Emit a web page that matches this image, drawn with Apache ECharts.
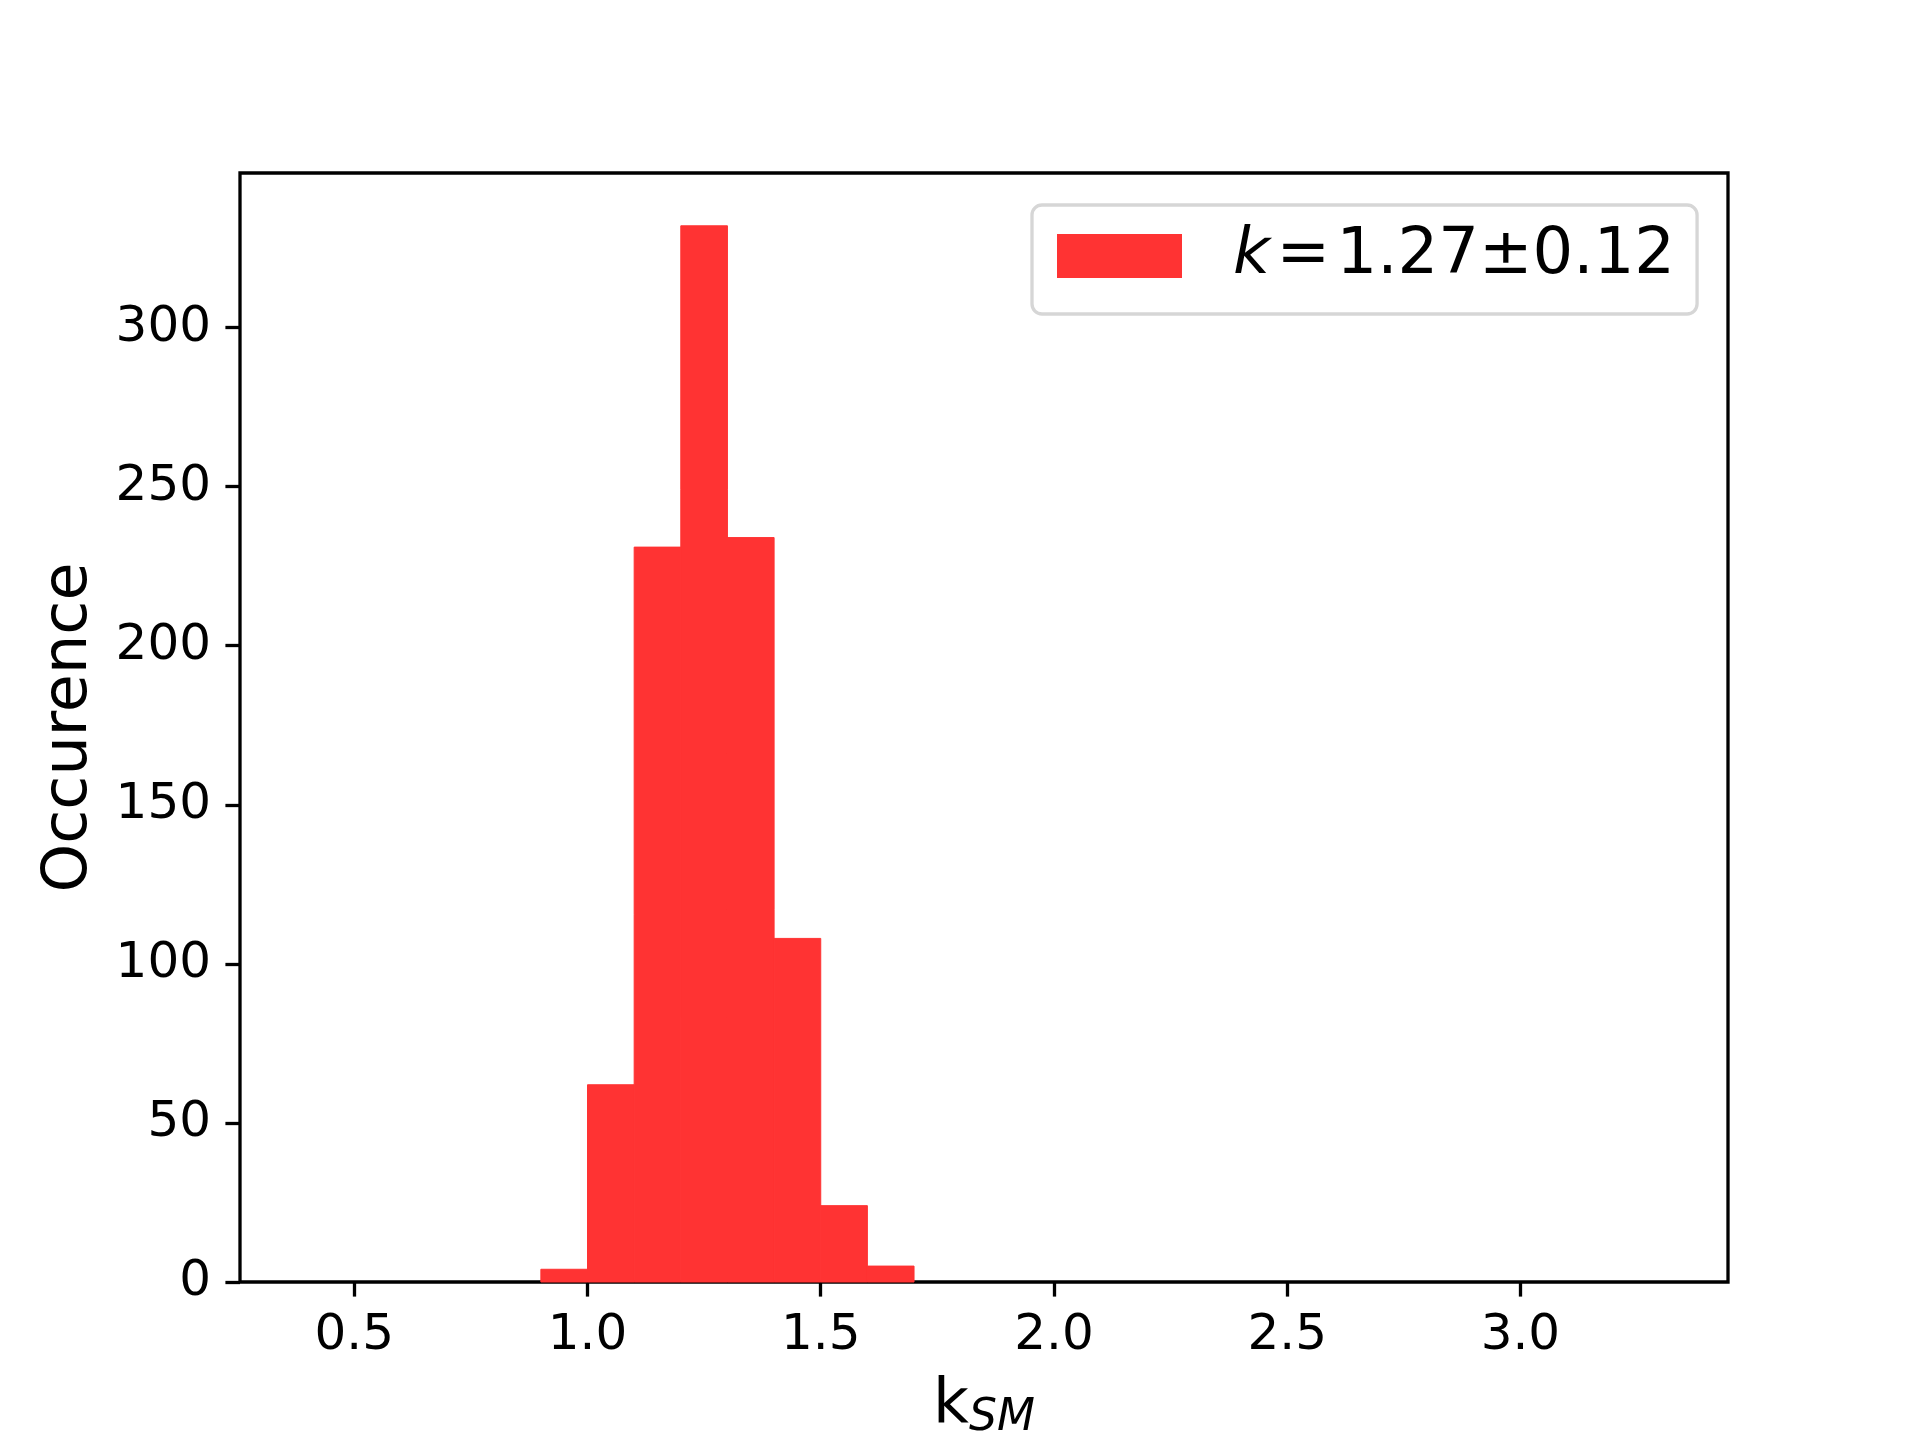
<!DOCTYPE html>
<html>
<head>
<meta charset="utf-8">
<script src="https://cdn.jsdelivr.net/npm/echarts@6/dist/echarts.min.js"></script>
<style>
html,body{margin:0;padding:0;background:#fff;}
#chart{width:1920px;height:1440px;}
</style>
</head>
<body>
<div id="chart"></div>
<script>
// Histogram data (bin range 0.4 .. 3.3, width 0.1)
const binStart = 0.4;
const binWidth = 0.1;
const counts = [0,0,0,0,0,4,62,231,332,234,108,24,5,0,0,0,0,0,0,0,0,0,0,0,0,0,0,0,0];
const xTicks = [0.5, 1.0, 1.5, 2.0, 2.5, 3.0];
const yTicks = [0, 50, 100, 150, 200, 250, 300];
const legendLabel = 'k = 1.27±0.12';
const xLabel = 'k';
const xLabelSub = 'SM';
const yLabel = 'Occurence';

const bins = counts.map((c, i) => {
  const x0 = +(binStart + i * binWidth).toFixed(2);
  return [x0, +(x0 + binWidth).toFixed(2), c];
});
const xDataMin = binStart;
const xDataMax = binStart + counts.length * binWidth;
const xPad = 0.05 * (xDataMax - xDataMin);
const yMax = Math.max(...counts) * 1.05;

const FONT = 'DejaVu Sans';
const chart = echarts.init(document.getElementById('chart'));
chart.setOption({
  animation: false,
  backgroundColor: '#ffffff',
  textStyle: { fontFamily: FONT },
  grid: {
    left: 240, right: 192, top: 173, bottom: 158,
    outerBoundsMode: 'none',
    containLabel: false,
    show: true, borderColor: '#000', borderWidth: 3.3, backgroundColor: 'transparent'
  },
  legend: {
    show: true,
    left: 1032, top: 205,
    padding: [19, 22, 26, 25],
    backgroundColor: '#fff',
    borderColor: '#d6d6d6', borderWidth: 3.3, borderRadius: 10,
    itemWidth: 125, itemHeight: 44,
    icon: 'rect',
    data: [{ name: legendLabel, icon: 'rect' }],
    formatter: () => '{i|k}\u200A=\u200A1.27±0.12',
    textStyle: {
      fontFamily: FONT, fontSize: 64, color: '#000',
      padding: [0, 0, 0, 46],
      rich: { i: { fontStyle: 'italic', fontFamily: FONT, fontSize: 64, color: '#000' } }
    }
  },
  xAxis: {
    type: 'value',
    min: xDataMin - xPad,
    max: xDataMax + xPad,
    splitLine: { show: false },
    axisLine: { show: false },
    axisTick: { show: true, length: 14.6, lineStyle: { color: '#000', width: 3.3 }, customValues: xTicks },
    axisLabel: {
      customValues: xTicks, margin: 29, color: '#000', fontSize: 50, fontFamily: FONT,
      formatter: v => v.toFixed(1)
    },
    name: '{k|' + xLabel + '}{s|' + xLabelSub + '}',
    nameLocation: 'middle',
    nameGap: 89,
    nameTextStyle: {
      rich: {
        k: { fontSize: 62, fontFamily: FONT, color: '#000' },
        s: { fontSize: 44, fontFamily: FONT, fontStyle: 'italic', color: '#000', padding: [26, 0, 0, 0] }
      }
    }
  },
  yAxis: {
    type: 'value',
    min: 0,
    max: yMax,
    splitLine: { show: false },
    axisLine: { show: false },
    axisTick: { show: true, length: 14.6, lineStyle: { color: '#000', width: 3.3 }, customValues: yTicks },
    axisLabel: { customValues: yTicks, margin: 29, color: '#000', fontSize: 50, fontFamily: FONT },
    name: yLabel,
    nameLocation: 'middle',
    nameGap: 139,
    nameTextStyle: { fontSize: 62, fontFamily: FONT, color: '#000' }
  },
  series: [{
    name: legendLabel,
    type: 'custom',
    itemStyle: { color: '#ff3333' },
    data: bins,
    encode: { x: [0, 1], y: 2 },
    renderItem: function (params, api) {
      const c = api.value(2);
      if (!c) return null;
      const p0 = api.coord([api.value(0), c]);
      const p1 = api.coord([api.value(1), 0]);
      return {
        type: 'rect',
        shape: { x: p0[0], y: p0[1], width: p1[0] - p0[0], height: p1[1] - p0[1] },
        style: { fill: '#ff3333', stroke: '#ff3333', lineWidth: 1 }
      };
    }
  }]
});
</script>
</body>
</html>
